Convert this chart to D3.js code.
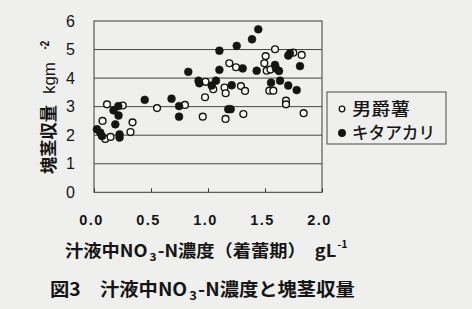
<!DOCTYPE html>
<html><head><meta charset="utf-8">
<script src="https://cdn.jsdelivr.net/npm/d3@7/dist/d3.min.js"></script>
<style>
html,body{margin:0;padding:0;background:#efefed;}
svg{display:block;}
</style></head>
<body><svg id="c" width="472" height="309"></svg>
<script>
// ---- data ----
const seriesNames = ["男爵薯", "キタアカリ"];
const danshakuX = [0.114,0.252,0.075,0.338,0.099,0.145,0.320,0.553,0.798,0.954,0.978,0.974,1.046,1.145,1.155,1.154,1.187,1.246,1.289,1.325,1.310,1.506,1.494,1.588,1.515,1.548,1.538,1.573,1.684,1.684,1.748,1.822,1.839];
const danshakuY = [3.08,3.04,2.50,2.45,1.87,1.94,2.11,2.95,3.06,2.65,3.87,3.33,3.61,3.67,3.47,2.57,4.52,4.38,3.72,3.55,2.74,4.77,4.52,5.01,4.26,4.30,3.56,3.56,3.21,3.08,4.89,4.81,2.77];
const kitaX = [0.026,0.055,0.070,0.171,0.213,0.215,0.187,0.224,0.224,0.445,0.680,0.746,0.746,0.827,0.917,0.924,1.032,1.070,1.100,1.100,1.178,1.199,1.208,1.252,1.304,1.386,1.441,1.427,1.588,1.596,1.623,1.553,1.632,1.704,1.778,1.704,1.719,1.807];
const kitaY = [2.21,2.09,1.97,2.87,3.02,2.69,2.38,2.03,1.92,3.24,3.28,3.02,2.65,4.22,3.91,3.82,3.74,3.91,4.96,4.29,2.91,2.91,3.75,5.13,4.34,5.36,5.71,4.26,4.46,4.34,4.25,3.84,3.91,3.74,3.58,4.79,4.87,4.42];
const xTicks = [0.0, 0.5, 1.0, 1.5, 2.0];
const yTicks = [0, 1, 2, 3, 4, 5, 6];

// ---- layout ----
const L = 94, R = 322, T = 21, B = 192.3;
const svg = d3.select("#c");
const x = d3.scaleLinear().domain([0, 2]).range([L, R]);
const y = d3.scaleLinear().domain([0, 6]).range([B, T]);
const ink = "#141414";
const cjk = "'Noto Sans CJK JP','Noto Sans CJK SC',sans-serif";
const lat = "'Liberation Sans',Arial,sans-serif";

// gridlines
svg.append("g").selectAll("line").data(yTicks.filter(d => d > 0 && d < 6)).join("line")
  .attr("x1", L).attr("x2", R).attr("y1", d => y(d)).attr("y2", d => y(d))
  .attr("stroke", "#444").attr("stroke-width", 1);
// frame
svg.append("rect").attr("x", L).attr("y", T).attr("width", R - L).attr("height", B - T)
  .attr("fill", "none").attr("stroke", "#3a3a3a").attr("stroke-width", 1);

// x axis ticks (inside)
const xAxis = d3.axisBottom(x).tickValues(xTicks).tickSize(-4).tickFormat(d3.format(".1f"));
const gx = svg.append("g").attr("transform", `translate(0,${B})`).call(xAxis);
gx.select(".domain").remove();
gx.selectAll(".tick line").attr("stroke", "#3a3a3a");
gx.selectAll(".tick text").attr("fill", ink).attr("font-family", lat).attr("font-size", 14.5)
  .attr("letter-spacing", 1.5).attr("dx", -3).attr("y", 28).attr("dy", "0.32em").attr("font-weight", "bold");

// y axis labels
const yAxis = d3.axisLeft(y).tickValues(yTicks).tickSize(0).tickPadding(19).tickFormat(d3.format("d"));
const gy = svg.append("g").attr("transform", `translate(${L},0)`).call(yAxis);
gy.select(".domain").remove();
gy.selectAll(".tick text").attr("fill", ink).attr("font-family", lat).attr("font-size", 16);

// points
const dA = danshakuX.map((v, i) => ({x: v, y: danshakuY[i]}));
const dB = kitaX.map((v, i) => ({x: v, y: kitaY[i]}));
svg.append("g").selectAll("circle").data(dA).join("circle")
  .attr("cx", d => x(d.x)).attr("cy", d => y(d.y)).attr("r", 3.4)
  .attr("fill", "#fff").attr("stroke", ink).attr("stroke-width", 1.4);
svg.append("g").selectAll("circle").data(dB).join("circle")
  .attr("cx", d => x(d.x)).attr("cy", d => y(d.y)).attr("r", 3.9)
  .attr("fill", ink).attr("stroke", ink).attr("stroke-width", 0.6);

// helper: fit text to width by horizontal scaling
function fit(t, tx, ty, w, rot) {
  const bw = t.node().getBBox().width;
  const k = w / bw;
  t.attr("transform", `translate(${tx},${ty})${rot ? " rotate(" + rot + ")" : ""} scale(${k},1)`);
}

// legend
svg.append("rect").attr("x", 327).attr("y", 92).attr("width", 119).attr("height", 52)
  .attr("fill", "none").attr("stroke", "#4a4a4a").attr("stroke-width", 1);
seriesNames.forEach((n, i) => {
  const cy = 109 + i * 24;
  svg.append("circle").attr("cx", 342).attr("cy", cy).attr("r", i ? 3.3 : 2.8)
    .attr("fill", i ? ink : "#fff").attr("stroke", ink).attr("stroke-width", 1.3);
  const t = svg.append("text").attr("font-family", cjk).attr("font-size", 17).attr("font-weight", 500)
    .attr("fill", ink).attr("dy", "0.36em").text(n);
  fit(t, 352, cy, i ? 83 : 58);
});

// x title
const xt = svg.append("text").attr("font-family", cjk).attr("font-size", 17).attr("font-weight", 700).attr("fill", ink);
xt.append("tspan").text("汁液中NO");
xt.append("tspan").attr("font-size", 11).attr("dy", 4).attr("dx", 2).text("3");
xt.append("tspan").attr("dy", -4).attr("dx", 1).text("-N濃度（着蕾期）　gL");
xt.append("tspan").attr("font-size", 10).attr("dy", -9).attr("dx", 1).text("-1");
fit(xt, 65, 257, 283);

// y title (three parts)
const yt1 = svg.append("text").attr("font-family", cjk).attr("font-size", 17).attr("font-weight", 700)
  .attr("fill", ink).text("塊茎収量");
fit(yt1, 55, 174, 69, -90);
const yt2 = svg.append("text").attr("font-family", lat).attr("font-size", 17)
  .attr("fill", ink).text("kgm");
fit(yt2, 55, 94, 32, -90);
const yt3 = svg.append("text").attr("font-family", lat).attr("font-size", 12).attr("font-weight", "bold")
  .attr("fill", ink).text("-2");
fit(yt3, 48.5, 49.5, 9, -90);

// caption
const cap = svg.append("text").attr("font-family", cjk).attr("font-size", 18).attr("font-weight", 700).attr("fill", ink);
cap.append("tspan").text("図3　汁液中NO");
cap.append("tspan").attr("font-size", 12).attr("dy", 4).attr("dx", 2).text("3");
cap.append("tspan").attr("dy", -4).attr("dx", 1).text("-N濃度と塊茎収量");
fit(cap, 50, 296, 305);
</script></body></html>
